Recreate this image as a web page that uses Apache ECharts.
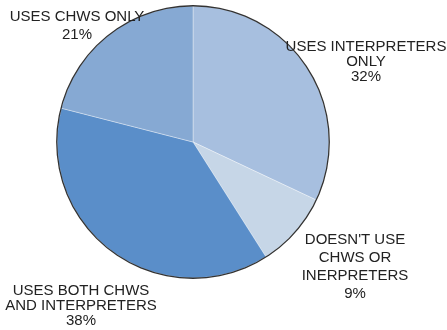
<!DOCTYPE html>
<html>
<head>
<meta charset="utf-8">
<script src="https://cdn.jsdelivr.net/npm/echarts@6/dist/echarts.min.js"></script>
<style>
  html, body { margin: 0; padding: 0; background: #fff; }
  #chart { width: 447px; height: 330px; }
</style>
</head>
<body>
<div id="chart"></div>
<script>
// Slices, clockwise from 12 o'clock
const categories = [
  'USES INTERPRETERS\nONLY',
  "DOESN'T USE\nCHWS OR\nINERPRETERS",
  'USES BOTH CHWS\nAND INTERPRETERS',
  'USES CHWS ONLY'
];
const shares = [32, 9, 38, 21];
const sliceColors = ['#a7bfdf', '#c6d6e7', '#5a8ec9', '#86a9d3'];

// Label block centres and line heights for each slice
const labelSpots = [
  { x: 366, y: 62, lh: 15 },
  { x: 355, y: 267, lh: 18 },
  { x: 81, y: 306, lh: 15 },
  { x: 77, y: 26, lh: 18 }
];

const chart = echarts.init(document.getElementById('chart'), null, { renderer: 'canvas' });

const center = [193, 142];
const radius = 136;

chart.setOption({
  animation: false,
  series: [
    {
      type: 'pie',
      center: center,
      radius: radius,
      startAngle: 90,
      clockwise: true,
      avoidLabelOverlap: false,
      data: categories.map((name, i) => ({
        name: name,
        value: shares[i],
        itemStyle: { color: sliceColors[i] },
        label: { lineHeight: labelSpots[i].lh }
      })),
      itemStyle: {
        borderColor: 'rgba(255,255,255,0.45)',
        borderWidth: 0.8
      },
      label: {
        show: true,
        position: 'outside',
        formatter: p => p.name + '\n' + p.value + '%',
        fontFamily: 'Liberation Sans, Arial, sans-serif',
        fontSize: 15,
        color: '#222',
        align: 'center'
      },
      labelLine: { show: false },
      labelLayout: function (params) {
        const s = labelSpots[params.dataIndex];
        return { x: s.x, y: s.y, align: 'center', verticalAlign: 'middle' };
      },
      emphasis: { disabled: true }
    },
    {
      // dark rim around the pie
      type: 'pie',
      center: center,
      radius: [radius - 0.4, radius + 0.9],
      silent: true,
      label: { show: false },
      labelLine: { show: false },
      itemStyle: { color: '#333', borderWidth: 0 },
      data: [{ value: 1, name: 'rim' }],
      emphasis: { disabled: true }
    }
  ]
});
</script>
</body>
</html>
